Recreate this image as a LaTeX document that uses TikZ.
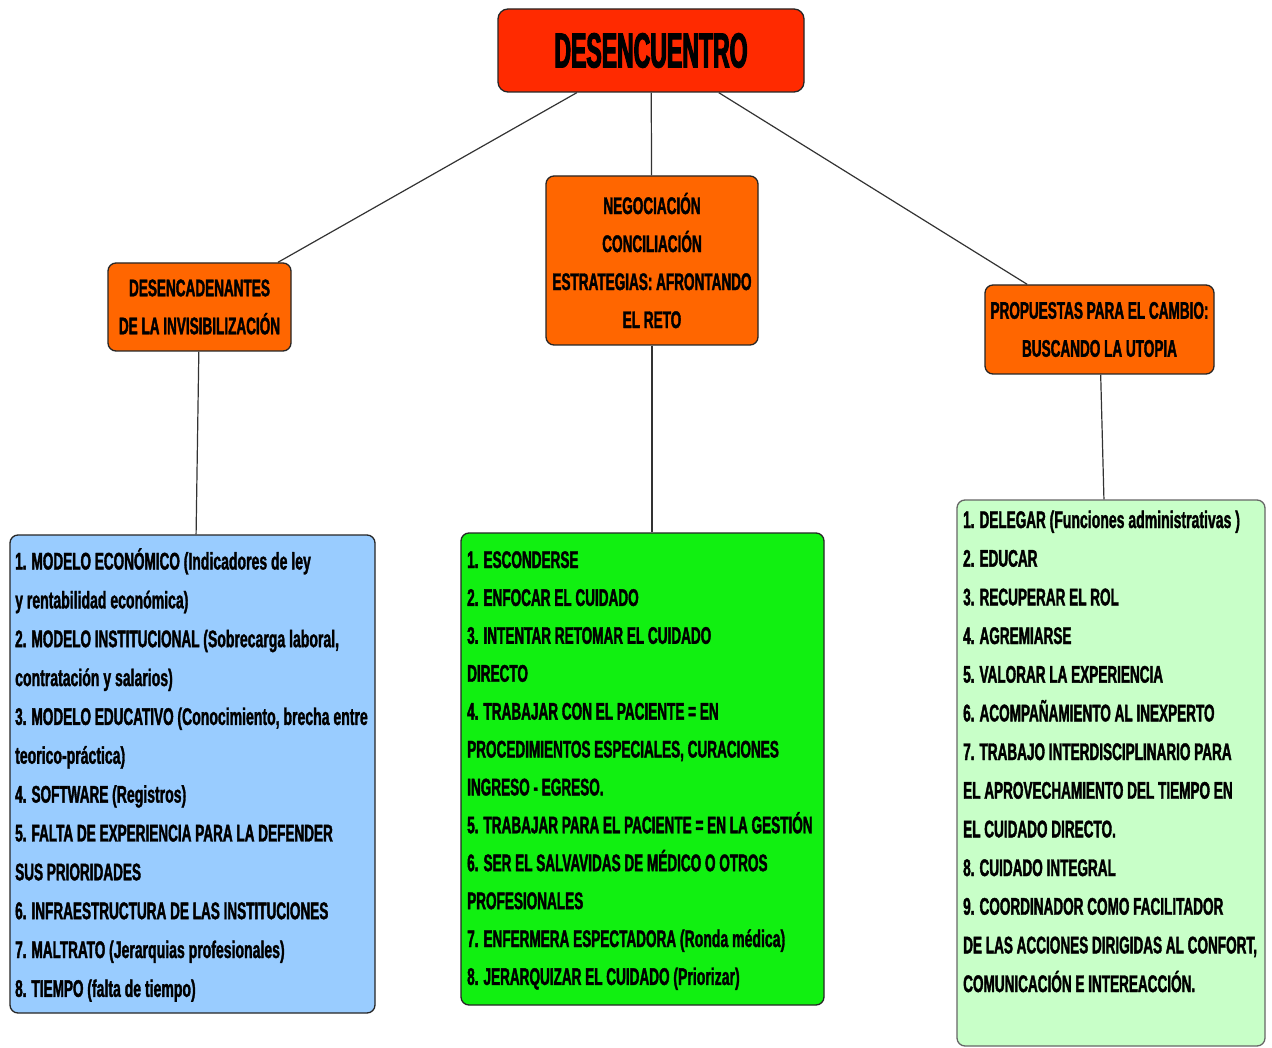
\documentclass[tikz,border=0pt]{standalone}
\usepackage{fontspec}
\setmainfont{Liberation Sans}[FakeStretch=0.565, BoldFeatures={FakeBold=1.6}]
\newfontfamily\titlefont{Liberation Sans}[FakeStretch=0.47, BoldFeatures={FakeBold=2.2}]
\newfontfamily\regfont{Liberation Sans}[FakeStretch=0.585, FakeBold=1.3]
\newcommand{\pr}[1]{{\regfont #1}}
\usetikzlibrary{calc}
\definecolor{titlered}{HTML}{FF2A00}
\definecolor{hdrorange}{HTML}{FF6600}
\definecolor{boxblue}{HTML}{99CCFF}
\definecolor{boxgreen}{HTML}{11F011}
\definecolor{boxlgreen}{HTML}{C8FFC8}
\begin{document}
\begin{tikzpicture}[x=1pt,y=-1pt,
  box/.style={draw=black!85, line width=1.3pt, rounded corners=8pt, inner sep=0pt, align=center},
  conn/.style={draw=black!80, line width=1.2pt},
  hdr/.style={font=\bfseries\fontsize{24}{38}\selectfont},
  item/.style={anchor=base west, inner sep=0pt, font=\bfseries\fontsize{24}{30}\selectfont}]
\useasboundingbox[fill=white] (0,0) rectangle (1272,1048);

% boxes
\node[box, fill=titlered, rounded corners=10pt, minimum width=306pt, minimum height=83pt,
      font=\titlefont\bfseries\fontsize{49}{50}\selectfont] (title) at (651,50.5) {DESENCUENTRO};
\node[box, hdr, fill=hdrorange, minimum width=183pt, minimum height=88pt] (left) at (199.5,307)
  {DESENCADENANTES\\DE LA INVISIBILIZACIÓN};
\node[box, hdr, fill=hdrorange, minimum width=212pt, minimum height=169pt] (mid) at (652,260.5)
  {NEGOCIACIÓN\\CONCILIACIÓN\\ESTRATEGIAS: AFRONTANDO\\EL RETO};
\node[box, hdr, fill=hdrorange, minimum width=229pt, minimum height=89pt] (right) at (1099.5,329.5)
  {PROPUESTAS PARA EL CAMBIO:\\BUSCANDO LA UTOPIA};
\node[box, fill=boxblue, minimum width=365pt, minimum height=478pt] (blue) at (192.5,774) {};
\node[box, fill=boxgreen, minimum width=363pt, minimum height=472pt] (green) at (642.5,769) {};
\node[box, fill=boxlgreen, draw=black!60, minimum width=308pt, minimum height=546pt] (lgreen) at (1111,773) {};

% connectors
\draw[conn] (title) -- (left);
\draw[conn] (title) -- (mid);
\draw[conn] (title) -- (right);
\draw[conn] (left) -- (blue);
\draw[conn] (mid.south) -- (mid.south |- green.north);
\draw[conn] (right) -- (lgreen);

% blue list
\foreach \t [count=\i] in {
  {1. MODELO ECONÓMICO \pr{(Indicadores de ley}},
  {\pr{y rentabilidad económica)}},
  {2. MODELO INSTITUCIONAL \pr{(Sobrecarga laboral,}},
  {\pr{contratación y salarios)}},
  {3. MODELO EDUCATIVO \pr{(Conocimiento, brecha entre}},
  {\pr{teorico-práctica)}},
  {4. SOFTWARE \pr{(Registros)}},
  {5. FALTA DE EXPERIENCIA PARA LA DEFENDER},
  {SUS PRIORIDADES},
  {6. INFRAESTRUCTURA DE LAS INSTITUCIONES},
  {7. MALTRATO \pr{(Jerarquias profesionales)}},
  {8. TIEMPO \pr{(falta de tiempo)}}}
  \node[item] (b\i) at (15,{569.5+(\i-1)*38.85}) {\t};

% green list
\foreach \t [count=\i] in {
  {1. ESCONDERSE},
  {2. ENFOCAR EL CUIDADO},
  {3. INTENTAR RETOMAR EL CUIDADO},
  {DIRECTO},
  {4. TRABAJAR CON EL PACIENTE = EN},
  {PROCEDIMIENTOS ESPECIALES, CURACIONES},
  {INGRESO - EGRESO.},
  {5. TRABAJAR PARA EL PACIENTE = EN LA GESTIÓN},
  {6. SER EL SALVAVIDAS DE MÉDICO O OTROS},
  {PROFESIONALES},
  {7. ENFERMERA ESPECTADORA \pr{(Ronda médica)}},
  {8. JERARQUIZAR EL CUIDADO \pr{(Priorizar)}}}
  \node[item] (g\i) at (467,{568+(\i-1)*37.9}) {\t};

% light green list
\foreach \t [count=\i] in {
  {1. DELEGAR \pr{(Funciones administrativas )}},
  {2. EDUCAR},
  {3. RECUPERAR EL ROL},
  {4. AGREMIARSE},
  {5. VALORAR LA EXPERIENCIA},
  {6. ACOMPAÑAMIENTO AL INEXPERTO},
  {7. TRABAJO INTERDISCIPLINARIO PARA},
  {EL APROVECHAMIENTO DEL TIEMPO EN},
  {EL CUIDADO DIRECTO.},
  {8. CUIDADO INTEGRAL},
  {9. COORDINADOR COMO FACILITADOR},
  {DE LAS ACCIONES DIRIGIDAS AL CONFORT,},
  {COMUNICACIÓN E INTEREACCIÓN.}}
  \node[item] (r\i) at (963,{528+(\i-1)*38.67}) {\t};
\end{tikzpicture}
\end{document}
